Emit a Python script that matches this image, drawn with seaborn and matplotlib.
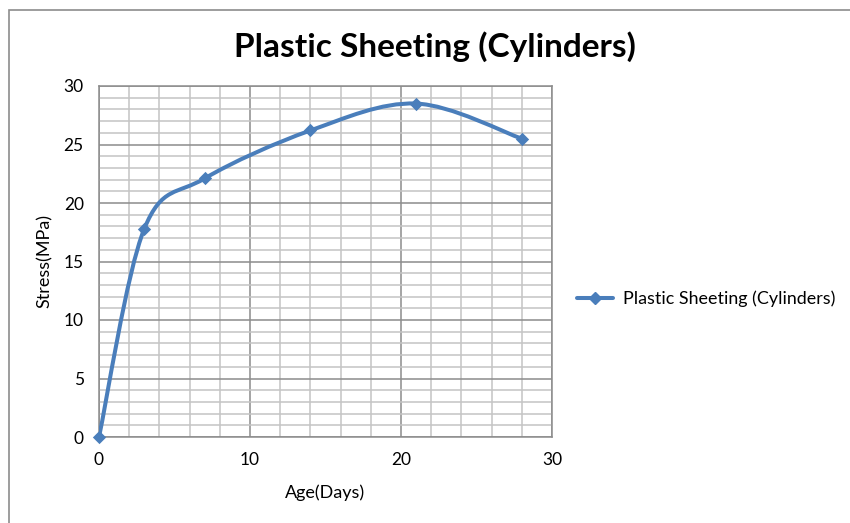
import matplotlib
matplotlib.use("Agg")
import matplotlib.pyplot as plt
import seaborn as sns
import numpy as np
import pandas as pd
from matplotlib.path import Path
from matplotlib.patches import PathPatch, Rectangle
from matplotlib.lines import Line2D
from matplotlib.ticker import MultipleLocator

# ---- data ----
age_days = [0, 3, 7, 14, 21, 28]
stress_mpa = [0.0, 17.8, 22.1, 26.2, 28.5, 25.5]
series_name = "Plastic Sheeting (Cylinders)"
title_text = "Plastic Sheeting (Cylinders)"
x_label = "Age(Days)"
y_label = "Stress(MPa)"

sns.set_style("white")
plt.rcParams["font.family"] = ["Lato", "DejaVu Sans"]
plt.rcParams["text.color"] = "#000000"

BLUE = "#4a7ebb"
W, H = 850, 523
fig = plt.figure(figsize=(W / 100, H / 100), dpi=100)
ax = fig.add_axes([99 / W, 1 - 437 / H, (552 - 99) / W, (437 - 86) / H])

df = pd.DataFrame({"age": age_days, "stress": stress_mpa})

# Excel-style smoothed line: cubic Bezier through points (Catmull-Rom, 1/6 tension)
pts = np.column_stack([df["age"].to_numpy(float), df["stress"].to_numpy(float)])
n = len(pts)
verts = [tuple(pts[0])]
codes = [Path.MOVETO]
for i in range(n - 1):
    p0 = pts[i - 1] if i > 0 else pts[i]
    p1 = pts[i]
    p2 = pts[i + 1]
    p3 = pts[i + 2] if i + 2 < n else pts[i + 1]
    c1 = p1 + (p2 - p0) / 6.0
    c2 = p2 - (p3 - p1) / 6.0
    verts += [tuple(c1), tuple(c2), tuple(p2)]
    codes += [Path.CURVE4] * 3
ax.add_patch(PathPatch(Path(verts, codes), facecolor="none", edgecolor=BLUE,
                       lw=2.9, capstyle="round", joinstyle="round", zorder=3))

sns.scatterplot(data=df, x="age", y="stress", marker="D", s=46, color=BLUE,
                edgecolor=BLUE, linewidth=0, ax=ax, zorder=4, legend=False,
                clip_on=False)

ax.set_xlim(0, 30)
ax.set_ylim(0, 30)
ax.xaxis.set_major_locator(MultipleLocator(10))
ax.xaxis.set_minor_locator(MultipleLocator(2))
ax.yaxis.set_major_locator(MultipleLocator(5))
ax.yaxis.set_minor_locator(MultipleLocator(1))
ax.grid(which="minor", color="#c4c4c4", lw=1.1, zorder=0)
ax.grid(which="major", color="#8c8c8c", lw=1.1, zorder=0)
ax.set_axisbelow(True)
for s in ax.spines.values():
    s.set_color("#8c8c8c")
    s.set_linewidth(1.1)
ax.tick_params(which="major", direction="out", length=5, width=1,
               color="#8c8c8c", labelsize=12.5, labelcolor="#000000", pad=6)
ax.tick_params(which="minor", length=0)
ax.set_xlabel("")
ax.set_ylabel("")

fig.text(325 / W, 1 - 493 / H, x_label, ha="center", va="center", fontsize=13)
fig.text(45 / W, 1 - 261 / H, y_label, ha="center", va="center", rotation=90,
         fontsize=13)
fig.text(435 / W, 1 - 47 / H, title_text, ha="center", va="center",
         fontsize=24, fontweight="bold")

handle = Line2D([], [], color=BLUE, lw=2.9, marker="D", markersize=6.6)
fig.legend([handle], [series_name], loc="center left",
           bbox_to_anchor=(577 / W, 1 - 299 / H), frameon=False, fontsize=12.9,
           handlelength=2.0, handletextpad=0.55, borderpad=0, borderaxespad=0)

# chart outer border
fig.add_artist(Rectangle((9 / W, -0.1), 1.2, 1 - 10 / H + 0.1,
                         transform=fig.transFigure, fill=False,
                         edgecolor="#8c8c8c", lw=1.2))

fig.savefig("out.png", dpi=100)
